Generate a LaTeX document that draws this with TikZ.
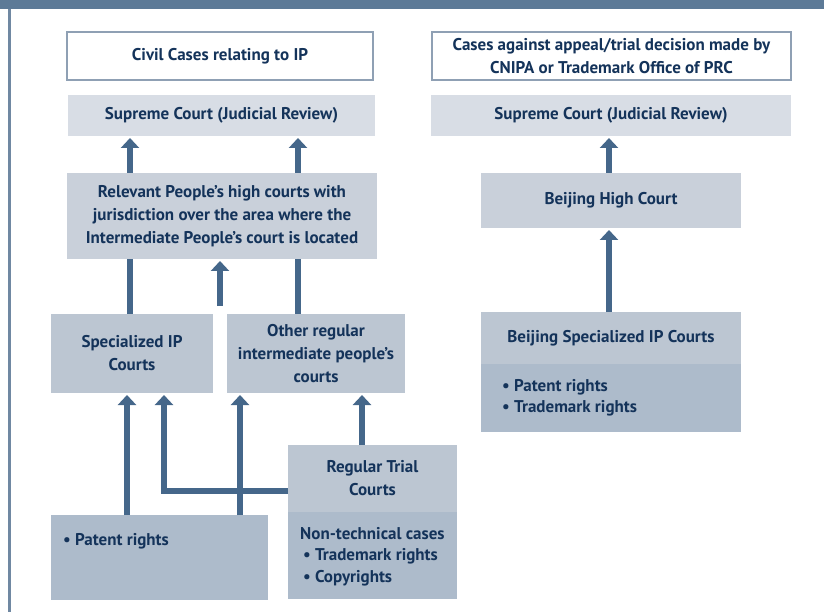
\documentclass[tikz,border=0pt]{standalone}
\usepackage{fontspec}
\setmainfont{PT Sans}
\usetikzlibrary{arrows.meta,backgrounds}
\definecolor{barc}{HTML}{5D7A97}
\definecolor{linec}{HTML}{7088A2}
\definecolor{framec}{HTML}{8FA0B4}
\definecolor{fsup}{HTML}{D8DDE5}
\definecolor{fhigh}{HTML}{C9D0DA}
\definecolor{fmid}{HTML}{BCC6D2}
\definecolor{flist}{HTML}{ADBBCB}
\definecolor{arrc}{HTML}{45678A}
\definecolor{txtc}{HTML}{14335A}
\tikzset{
  box/.style={rectangle, inner sep=0pt, outer sep=0pt, text=txtc, align=center,
    font=\bfseries\fontsize{17}{23}\selectfont},
  titlebox/.style={box, draw=framec, line width=2pt, fill=white},
  supbox/.style={box, fill=fsup},
  highbox/.style={box, fill=fhigh},
  midbox/.style={box, fill=fmid},
  listbox/.style={box, fill=flist},
  listtext/.style={inner sep=0pt, text=txtc, align=left,
    font=\bfseries\fontsize{17}{21.7}\selectfont},
  arr/.style={draw=arrc, line width=6pt, -{Triangle[width=18pt,length=10pt]}, shorten >=2pt}
}
\begin{document}
\begin{tikzpicture}[x=1pt,y=-1pt]
\useasboundingbox (0,0) rectangle (824,612);
\fill[barc] (0,0) rectangle (824,9);
\draw[linec, line width=2.5pt] (9.5,9) -- (9.5,612);

% left column
\node[titlebox, minimum width=306, minimum height=48] (civil) at (220,56) {Civil Cases relating to IP};
\node[supbox, minimum width=307, minimum height=41] (supL) at (221.5,115.5) {Supreme Court (Judicial Review)};
\node[highbox, minimum width=310, minimum height=86] (rel) at (222,216) {Relevant People’s high courts with\\jurisdiction over the area where the\\Intermediate People’s court is located};
\node[midbox, minimum width=162, minimum height=79] (spec) at (132,353.5) {Specialized IP\\Courts};
\node[midbox, minimum width=178, minimum height=79] (other) at (316,353.5) {Other regular\\intermediate people’s\\courts};
\node[midbox, minimum width=169, minimum height=67] (rtc) at (372.5,478.5) {Regular Trial\\Courts};
\node[listbox, minimum width=169, minimum height=87] (rtcl) at (372.5,555.5) {};
\node[listtext, anchor=north west] (rtct) at (300,527) {Non-technical cases\\\,• Trademark rights\\\,• Copyrights};
\node[listbox, minimum width=217, minimum height=85] (pat) at (159.5,557.5) {};
\node[listtext, anchor=north west] (patt) at (63,533) {• Patent rights};

% right column
\node[titlebox, minimum width=359, minimum height=48] (cases) at (611.5,56) {Cases against appeal/trial decision made by\\CNIPA or Trademark Office of PRC};
\node[supbox, minimum width=360, minimum height=41] (supR) at (611,115.5) {Supreme Court (Judicial Review)};
\node[highbox, minimum width=260, minimum height=55] (bhigh) at (611,200.5) {Beijing High Court};
\node[midbox, minimum width=260, minimum height=52] (bspec) at (611,338) {Beijing Specialized IP Courts};
\node[listbox, minimum width=260, minimum height=68] (bspecl) at (611,398) {};
\node[listtext, anchor=north west] (bspect) at (502,379) {• Patent rights\\• Trademark rights};

\coordinate (mid) at (220,306);

\begin{scope}[on background layer]
\draw[arr] ([xshift=-2]spec.north) -- ([xshift=-2]spec.north |- supL.south);
\draw[arr] ([xshift=-18]other.north) -- ([xshift=-18]other.north |- supL.south);
\end{scope}
\draw[arr] (mid) -- (mid |- rel.south);
\draw[arr] ([xshift=-32.5]pat.north) -- ([xshift=-32.5]pat.north |- spec.south);
\draw[arr] ([xshift=80.5]pat.north) -- ([xshift=80.5]pat.north |- other.south);
\draw[arr] ([yshift=-12.5]rtc.west) -| ([xshift=32]spec.south);
\draw[arr] ([xshift=-10.5]rtc.north) -- ([xshift=-10.5]rtc.north |- other.south);
\draw[arr] ([xshift=-2]bhigh.north) -- ([xshift=-2]bhigh.north |- supR.south);
\draw[arr] ([xshift=-2]bspec.north) -- ([xshift=-2]bspec.north |- bhigh.south);
\end{tikzpicture}
\end{document}
